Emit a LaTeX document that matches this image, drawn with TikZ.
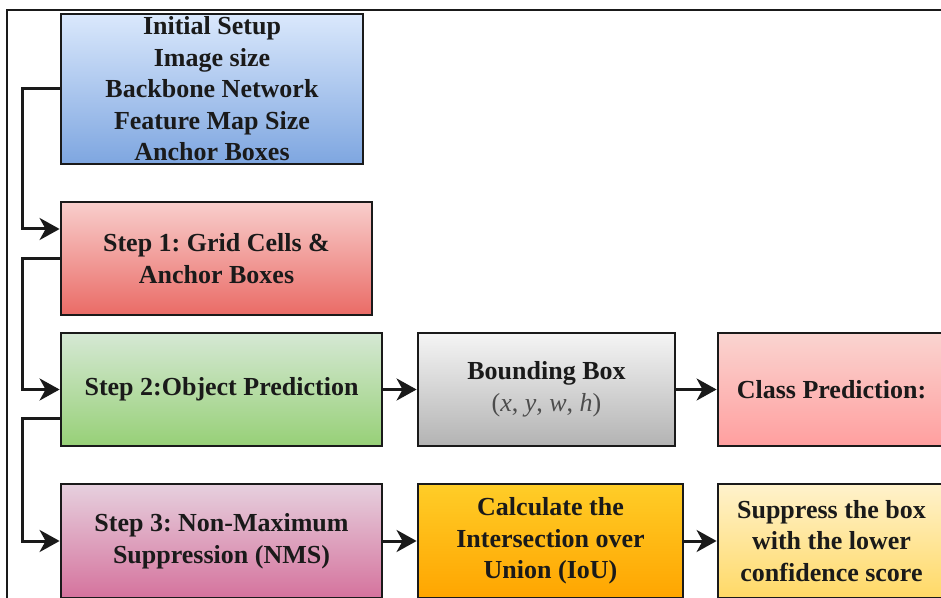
\documentclass[tikz,border=0pt]{standalone}
\usepackage{fontspec}
\setmainfont{Liberation Serif}
\usetikzlibrary{arrows.meta,calc}
\frenchspacing
\definecolor{blueT}{HTML}{DAE8FC}\definecolor{blueB}{HTML}{7EA6E0}
\definecolor{redT}{HTML}{F8CECC}\definecolor{redB}{HTML}{EA6B66}
\definecolor{greenT}{HTML}{D5E8D4}\definecolor{greenB}{HTML}{97D077}
\definecolor{grayT}{HTML}{F5F5F5}\definecolor{grayB}{HTML}{B3B3B3}
\definecolor{pinkT}{HTML}{FAD4D0}\definecolor{pinkB}{HTML}{FF9F9F}
\definecolor{purpT}{HTML}{E6D0DE}\definecolor{purpB}{HTML}{D5739D}
\definecolor{oranT}{HTML}{FFCD28}\definecolor{oranB}{HTML}{FFA500}
\definecolor{yellT}{HTML}{FFF2CC}\definecolor{yellB}{HTML}{FFD966}
\definecolor{ink}{HTML}{1A1A1A}
\begin{document}
\begin{tikzpicture}[x=1pt,y=1pt,
  box/.style={draw=ink, line width=2.8pt, rectangle, inner sep=0pt, align=center,
    font=\fontsize{26}{31.5}\selectfont\bfseries\frenchspacing, text=ink},
  conn/.style={line width=3pt, draw=ink, -{Stealth[length=20pt,width=22pt,inset=6pt]}}]
\useasboundingbox (0,0) rectangle (941,597);
\clip (0,0) rectangle (941,597);
\fill[white] (0,0) rectangle (941,597);
% frame
\draw[line width=2pt, ink] (7,-5) -- (7,587) -- (950,587);
% boxes
\node[box, top color=blueT, bottom color=blueB, minimum width=302pt, minimum height=150pt] (b0) at (212,508)
  {Initial Setup\\Image size\\Backbone Network\\Feature Map Size\\Anchor Boxes};
\node[box, top color=redT, bottom color=redB, minimum width=311pt, minimum height=113pt] (b1) at (216.5,338.5)
  {Step 1: Grid Cells \&\\Anchor Boxes};
\node[box, top color=greenT, bottom color=greenB, minimum width=321pt, minimum height=113pt] (b2) at (221.5,207.5)
  {Step 2:Object Prediction};
\node[box, top color=grayT, bottom color=grayB, minimum width=257pt, minimum height=113pt] (bb) at (546.5,207.5)
  {Bounding Box\\{\mdseries\color{black!70}(\textit{x}, \textit{y}, \textit{w}, \textit{h})}};
\node[box, top color=pinkT, bottom color=pinkB, minimum width=227pt, minimum height=113pt] (cp) at (831.5,207.5)
  {Class Prediction:};
\node[box, top color=purpT, bottom color=purpB, minimum width=321pt, minimum height=114pt] (b3) at (221.5,56)
  {Step 3: Non-Maximum\\Suppression (NMS)};
\node[box, top color=oranT, bottom color=oranB, minimum width=265pt, minimum height=114pt] (iou) at (550.5,56)
  {Calculate the\\Intersection over\\Union (IoU)};
\node[box, top color=yellT, bottom color=yellB, minimum width=227pt, minimum height=114pt] (sup) at (831.5,56)
  {Suppress the box\\with the lower\\confidence score};
% connectors
\draw[conn] (b0.west) -- ++(-37,0) |- ([yshift=29.5pt]b1.west);
\draw[conn] (b1.west) -- ++(-37,0) |- (b2.west);
\draw[conn] ([yshift=-28.5pt]b2.west) -- ++(-37,0) |- (b3.west);
\draw[conn] (b2.east) -- (bb.west);
\draw[conn] (bb.east) -- (cp.west);
\draw[conn] (b3.east) -- (iou.west);
\draw[conn] (iou.east) -- (sup.west);
\end{tikzpicture}
\end{document}
